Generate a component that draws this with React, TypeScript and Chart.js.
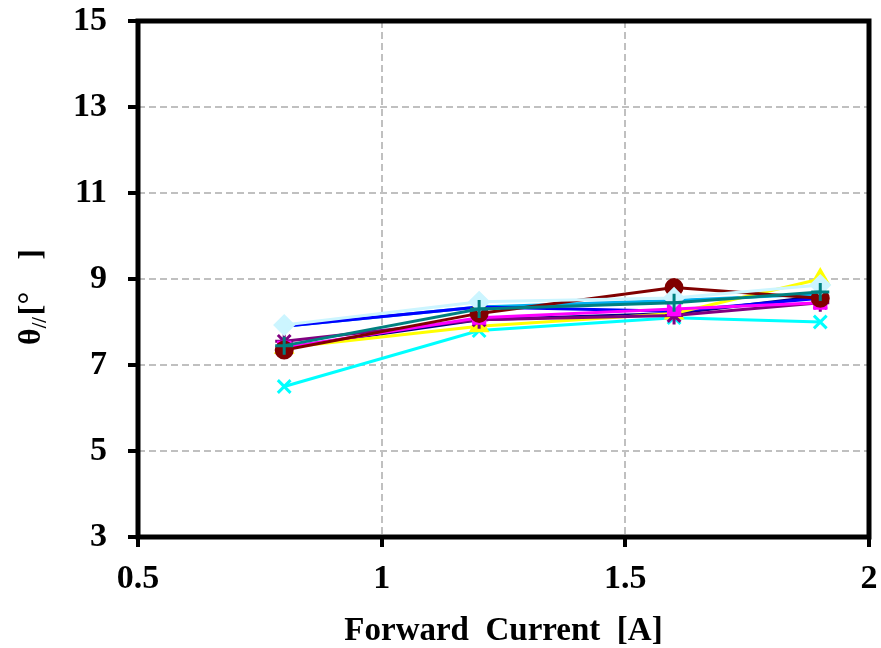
import React, { useEffect, useRef } from "react";
import { Chart, registerables } from "chart.js";
Chart.register(...registerables);

const currents = [0.8, 1.2, 1.6, 1.9];
const xTicks = [0.5, 1, 1.5, 2];
const yTicks = [3, 5, 7, 9, 11, 13, 15];
const xTitle = "Forward  Current  [A]";
const yTitleMain = "θ";
const yTitleSub = "//";
const yTitleUnit = "[°    ]";

const sNavy = [7.4, 8.05, 8.2, 8.6];
const sPurple = [7.55, 8.05, 8.15, 8.45];
const sMagenta = [7.4, 8.1, 8.3, 8.45];
const sYellow = [7.4, 7.9, 8.2, 9.0];
const sCyanX = [6.5, 7.8, 8.1, 8.0];
const sMaroon = [7.35, 8.2, 8.8, 8.55];
const sTeal = [7.45, 8.3, 8.45, 8.7];
const sSky = [7.9, 8.35, 8.5, 8.65];
const sBlue = [7.9, 8.35, 8.25, 8.55];
const sLight = [7.93, 8.47, 8.56, 8.86];

// first entry is drawn on top
const seriesList = [
  { name: "S7", values: sTeal, color: "#008080", style: "cross", radius: 9 },
  { name: "S10", values: sLight, color: "#ccf5ff", style: "rectRot", radius: 9 },
  { name: "S6", values: sMaroon, color: "#800000", style: "circle", radius: 8 },
  { name: "S3", values: sMagenta, color: "#ff00ff", style: "rect", radius: 8 },
  { name: "S2", values: sPurple, color: "#800080", style: "star", radius: 9 },
  { name: "S4", values: sYellow, color: "#ffff00", style: "triangle", radius: 9 },
  { name: "S5", values: sCyanX, color: "#00ffff", style: "crossRot", radius: 9 },
  { name: "S9", values: sBlue, color: "#0000ff", style: "circle", radius: 0 },
  { name: "S8", values: sSky, color: "#00b0f0", style: "circle", radius: 0 },
  { name: "S1", values: sNavy, color: "#000080", style: "circle", radius: 0 },
];

const FONT = "'Liberation Serif', 'Times New Roman', serif";

const framePlugin = {
  id: "frame",
  afterDraw(chart: any) {
    const { ctx, chartArea } = chart;
    ctx.save();
    ctx.strokeStyle = "#000";
    ctx.lineWidth = 5;
    ctx.strokeRect(chartArea.left, chartArea.top, chartArea.right - chartArea.left, chartArea.bottom - chartArea.top);
    // y-axis title with subscript
    const cy = (chartArea.top + chartArea.bottom) / 2;
    ctx.translate(32, cy + 66);
    ctx.rotate(-Math.PI / 2);
    ctx.fillStyle = "#000";
    ctx.textBaseline = "middle";
    ctx.textAlign = "left";
    ctx.font = `bold 32px ${FONT}`;
    ctx.fillText(yTitleMain, 0, 0);
    let x = ctx.measureText(yTitleMain).width;
    ctx.font = `bold 20px ${FONT}`;
    ctx.fillText(yTitleSub, x, 9);
    x += ctx.measureText(yTitleSub).width + 2;
    ctx.font = `bold 32px ${FONT}`;
    ctx.fillText(yTitleUnit, x, 0);
    ctx.restore();
  },
};

export default function App() {
  const ref = useRef<HTMLCanvasElement>(null);
  useEffect(() => {
    document.body.style.margin = "0";
    const chart = new Chart(ref.current!, {
      type: "line",
      data: {
        datasets: seriesList.map((s) => ({
          label: s.name,
          data: currents.map((x, i) => ({ x, y: s.values[i] })),
          borderColor: s.color,
          backgroundColor: s.color,
          pointStyle: s.style as any,
          pointRadius: s.radius,
          pointBorderWidth: 3,
          borderWidth: 3,
          tension: 0,
        })),
      },
      options: {
        animation: false,
        responsive: false,
        layout: { padding: { top: 21, right: 10, left: 0, bottom: 0 } },
        plugins: { legend: { display: false }, tooltip: { enabled: false } },
        scales: {
          x: {
            type: "linear",
            min: 0.5,
            max: 2,
            afterBuildTicks: (scale: any) => {
              scale.ticks = xTicks.map((v) => ({ value: v }));
            },
            afterFit: (scale: any) => {
              scale.height = 111;
              scale.paddingLeft = 0;
              scale.paddingRight = 0;
            },
            ticks: {
              color: "#000",
              font: { family: FONT, size: 34, weight: "bold" },
              padding: 12,
              maxRotation: 0,
              callback: (v: any) => String(v),
            },
            grid: {
              color: "#c0c0c0",
              lineWidth: 2,
              drawTicks: true,
              tickLength: 10,
              tickColor: "#000",
              tickWidth: 4,
              tickBorderDash: [],
            },
            border: { display: false, dash: [7, 4] },
            title: {
              display: true,
              text: xTitle,
              color: "#000",
              font: { family: FONT, size: 33, weight: "bold" },
              padding: { top: 0, bottom: -3 },
            },
          },
          y: {
            type: "linear",
            min: 3,
            max: 15,
            afterBuildTicks: (scale: any) => {
              scale.ticks = yTicks.map((v) => ({ value: v }));
            },
            afterFit: (scale: any) => {
              scale.width = 138;
              scale.paddingTop = 0;
              scale.paddingBottom = 0;
            },
            ticks: {
              color: "#000",
              font: { family: FONT, size: 34, weight: "bold" },
              padding: 21,
            },
            grid: {
              color: "#c0c0c0",
              lineWidth: 2,
              drawTicks: true,
              tickLength: 10,
              tickColor: "#000",
              tickWidth: 4,
              tickBorderDash: [],
            },
            border: { display: false, dash: [7, 4] },
          },
        },
      },
      plugins: [framePlugin],
    });
    return () => chart.destroy();
  }, []);
  return (
    <div style={{ width: 881, height: 648 }}>
      <canvas ref={ref} width={881} height={648} />
    </div>
  );
}
